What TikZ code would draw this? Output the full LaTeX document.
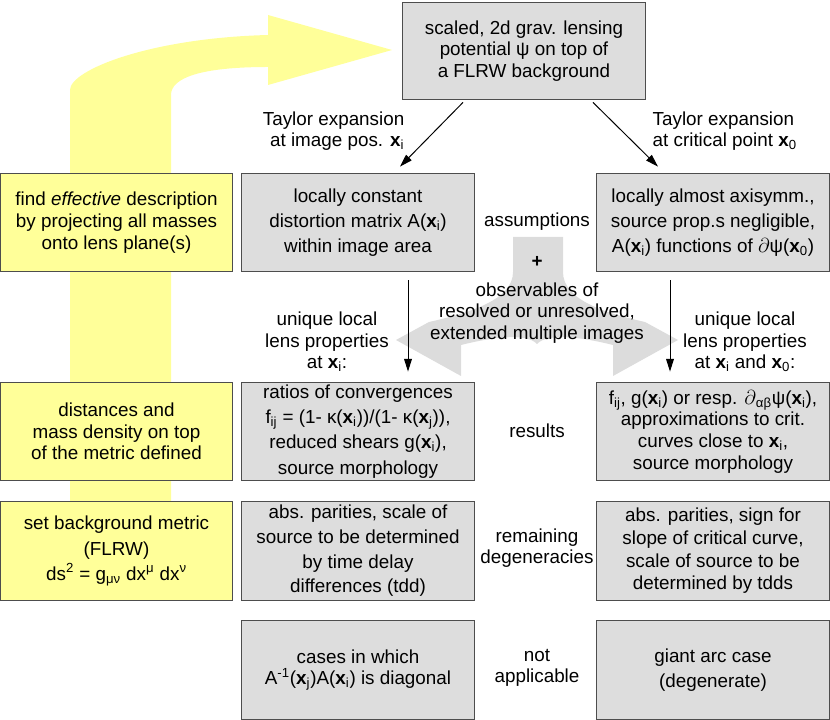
\documentclass[tikz,border=0pt]{standalone}
\usepackage{fontspec}
\setmainfont{Liberation Sans}
\usepackage{tikz}
\usetikzlibrary{arrows.meta,positioning,calc}

\definecolor{boxgray}{HTML}{DDDDDD}
\definecolor{splitgray}{HTML}{DCDCDC}
\definecolor{lightyellow}{HTML}{FFFF99}
\definecolor{edgegray}{HTML}{4D4D4D}
\newcommand{\xb}[1]{\textbf{x}\textsubscript{#1}}

\begin{document}
\begin{tikzpicture}[x=0.025cm,y=-0.025cm,
  every node/.style={font=\fontsize{13.4}{15.4}\selectfont},
  gbox/.style={draw=edgegray,line width=0.7pt,fill=boxgray,align=center,
    minimum width=5.8cm,minimum height=2.47cm,inner sep=2pt},
  ybox/.style={gbox,fill=lightyellow,minimum width=5.82cm},
  lbl/.style={align=center,inner sep=1pt},
  arr/.style={-{Triangle[length=9pt,width=5.5pt]},line width=0.7pt}]
 \useasboundingbox (0,0) rectangle (830,720);
 % big background arrows
 \fill[lightyellow] (70,550) -- (70,90) .. controls (70,70) and (150,38) .. (268,35)
   -- (268,15) -- (392,50) -- (268,85) -- (268,67) .. controls (200,67) and (171,78) .. (171,95)
   -- (171,550) -- cycle;
 \fill[splitgray] (513,237) -- (563,237) -- (563,272) .. controls (563,300) and (605,313) .. (645,322)
   -- (678,340) -- (613,376) -- (613,345) .. controls (585,338) and (548,332) .. (537,344)
   .. controls (526,332) and (489,338) .. (461,345) -- (461,376) -- (396,340) -- (429,322)
   .. controls (469,313) and (513,300) .. (513,272) -- cycle;
 % boxes
 \node[gbox,minimum width=6.05cm,minimum height=2.42cm] (top) at (524,51)
   {scaled, 2d grav. lensing\\potential ψ on top of\\a FLRW background};
 \node[ybox] (L1) at (116.5,222.5) {find \textit{effective} description\\by projecting all masses\\onto lens plane(s)};
 \node[ybox] (L2) at (116.5,431.5) {distances and\\mass density on top\\of the metric defined};
 \node[ybox] (L3) at (116.5,551) {set background metric\\[2.5pt](FLRW)\\[2.5pt]ds\textsuperscript{2} = g\textsubscript{μν} dx\textsuperscript{μ} dx\textsuperscript{ν}};
 \node[gbox] (A1) at (358,222.5) {locally constant\\[2.5pt]distortion matrix A(\xb{i})\\[2.5pt]within image area};
 \node[gbox] (A2) at (358,431.5) {ratios of convergences\\[2.5pt]f\textsubscript{ij} = (1- κ(\xb{i}))/(1- κ(\xb{j})),\\[2.5pt]reduced shears g(\xb{i}),\\[2.5pt]source morphology};
 \node[gbox] (A3) at (358,551) {abs. parities, scale of\\[2.2pt]source to be determined\\[2.2pt]by time delay\\[2.2pt]differences (tdd)};
 \node[gbox] (A4) at (358,670) {cases in which\\A\textsuperscript{-1}(\xb{j})A(\xb{i}) is diagonal};
 \node[gbox] (B1) at (713,222.5) {locally almost axisymm.,\\[2.5pt]source prop.s negligible,\\[2.5pt]A(\xb{i}) functions of $\partial$ψ(\xb{0})};
 \node[gbox] (B2) at (713,431.5) {f\textsubscript{ij}, g(\xb{i}) or resp. $\partial$\textsubscript{αβ}ψ(\xb{i}),\\approximations to crit.\\curves close to \xb{i},\\source morphology};
 \node[gbox] (B3) at (713,551) {abs. parities, sign for\\[0.7pt]slope of critical curve,\\[0.7pt]scale of source to be\\[0.7pt]determined by tdds};
 \node[gbox] (B4) at (713,670) {giant arc case\\[2pt](degenerate)};
 % labels
 \node[lbl,align=right,anchor=east] (tayA) at (406,131) {Taylor expansion\\at image pos. \xb{i}};
 \node[lbl,align=left,anchor=west] (tayB) at (651,131) {Taylor expansion\\at critical point \xb{0}};
 \node[lbl] (assum) at (537,222) {assumptions};
 \node[lbl] (plus) at (537,262) {\textbf{+}};
 \node[lbl] (obs) at (537,313) {observables of\\resolved or unresolved,\\extended multiple images};
 \node[lbl] (uniqA) at (327,342) {unique local\\lens properties\\at \xb{i}:};
 \node[lbl] (uniqB) at (745,342) {unique local\\lens properties\\at \xb{i} and \xb{0}:};
 \node[lbl] (res) at (537,431) {results};
 \node[lbl] (degen) at (537,548) {remaining\\degeneracies};
 \node[lbl] (napp) at (537,668) {not\\applicable};
 % arrows
 \draw[arr] ([shift={(-61,2.5)}]top.south) -- ([shift={(42,-6)}]A1.north);
 \draw[arr] ([shift={(69,2.5)}]top.south) -- ([shift={(-55,-6)}]B1.north);
 \foreach \a/\b/\dx in {A1/A2/50,B1/B2/-43}
   \draw[arr] ([shift={(\dx,8)}]\a.south) -- ([shift={(\dx,-10)}]\b.north);
\end{tikzpicture}
\end{document}
